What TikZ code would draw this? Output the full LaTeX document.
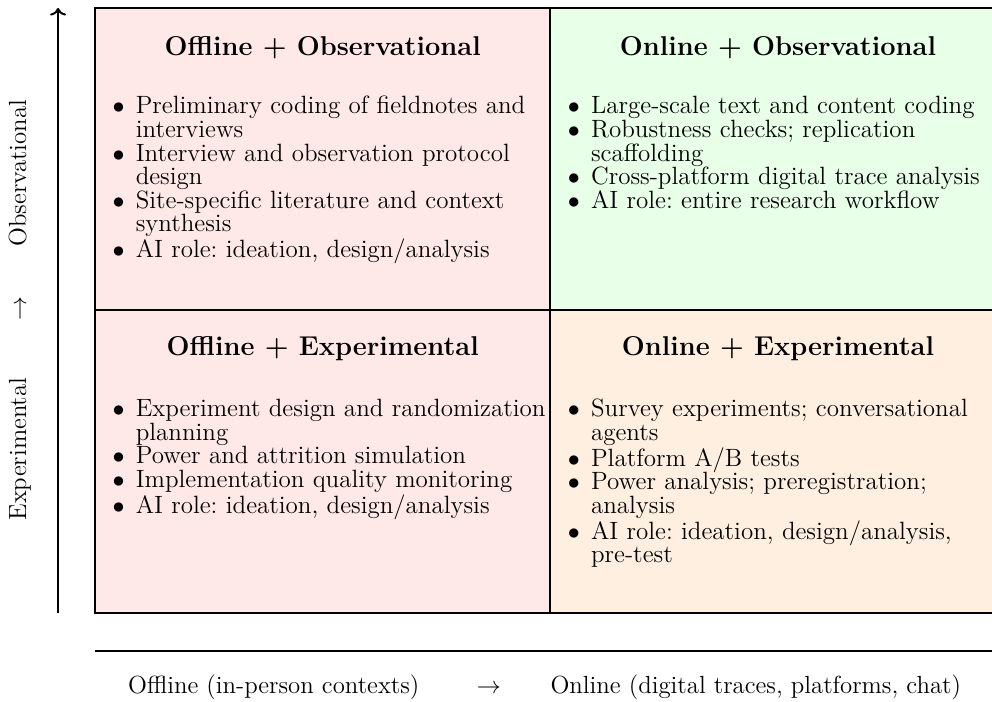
\documentclass[tikz,border=0pt]{standalone}
\usepackage{amsmath,amssymb}
\usepackage{tikz}
\usetikzlibrary{arrows.meta, positioning}
\usepackage{enumitem}
\usepackage{xcolor}
\definecolor{offobs}{RGB}{255,232,232}
\definecolor{onobs}{RGB}{232,255,232}
\definecolor{onexp}{RGB}{255,239,224}

\setlist[itemize]{nosep, leftmargin=*, label={\large$\bullet$}, labelsep=0.45em}

\tikzset{
  quadtitle/.style={font=\fontsize{13.6}{16}\selectfont\bfseries, anchor=center},
  quadlist/.style={anchor=north west, inner sep=0pt, text width=7.9cm, align=left,
    font=\fontsize{12.5}{11.8}\selectfont\frenchspacing},
  axislabel/.style={font=\fontsize{12.4}{15}\selectfont}
}

\begin{document}
\begin{tikzpicture}
  \useasboundingbox (-1.67,-1.55) rectangle (15.76,10.77);

  % quadrants
  \fill[offobs] (0,5.32) rectangle (8,10.63);
  \fill[onobs] (8,5.32) rectangle (16,10.63);
  \fill[offobs] (0,0) rectangle (8,5.32);
  \fill[onexp] (8,0) rectangle (16,5.32);
  \draw[line width=1pt] (0,0) rectangle (16,10.63);
  \draw[line width=1pt] (8,0) -- (8,10.63);
  \draw[line width=1pt] (0,5.32) -- (16,5.32);

  \node[quadtitle] (offobsT) at (4,9.93) {Offline + Observational};
  \node[quadtitle] (onobsT) at (12,9.93) {Online + Observational};
  \node[quadtitle] (offexpT) at (4,4.64) {Offline + Experimental};
  \node[quadtitle] (onexpT) at (12,4.64) {Online + Experimental};

  \node[quadlist] (offobsL) at (0.30,9.19) {%
    \begin{itemize}
      \item Preliminary coding of fieldnotes and\newline interviews
      \item Interview and observation protocol\newline design
      \item Site-specific literature and context\newline synthesis
      \item AI role: ideation, design/analysis
    \end{itemize}};
  \node[quadlist] (onobsL) at (8.30,9.19) {%
    \begin{itemize}
      \item Large-scale text and content coding
      \item Robustness checks; replication\newline scaffolding
      \item Cross-platform digital trace analysis
      \item AI role: entire research workflow
    \end{itemize}};
  \node[quadlist] (offexpL) at (0.30,3.87) {%
    \begin{itemize}
      \item Experiment design and randomization\newline planning
      \item Power and attrition simulation
      \item Implementation quality monitoring
      \item AI role: ideation, design/analysis
    \end{itemize}};
  \node[quadlist] (onexpL) at (8.30,3.87) {%
    \begin{itemize}
      \item Survey experiments; conversational\newline agents
      \item Platform A/B tests
      \item Power analysis; preregistration;\newline analysis
      \item AI role: ideation, design/analysis,\newline pre-test
    \end{itemize}};

  % axes
  \coordinate (ybot) at (-0.65,0);
  \coordinate (ytop) at (-0.65,10.63);
  \coordinate (xleft) at (0,-0.67);
  \coordinate (xright) at (16.3,-0.67);
  \draw[->, line width=1pt] (ybot) -- (ytop);
  \draw[->, line width=1pt] (xleft) -- (xright);
  \node[axislabel, rotate=90] (ylab) at (-1.32,5.32) {Experimental \qquad$\rightarrow$\qquad Observational};
  \node[axislabel] (xlab) at (7.9,-1.30) {Offline (in-person contexts) \qquad$\rightarrow$\qquad Online (digital traces, platforms, chat)};
\end{tikzpicture}
\end{document}
